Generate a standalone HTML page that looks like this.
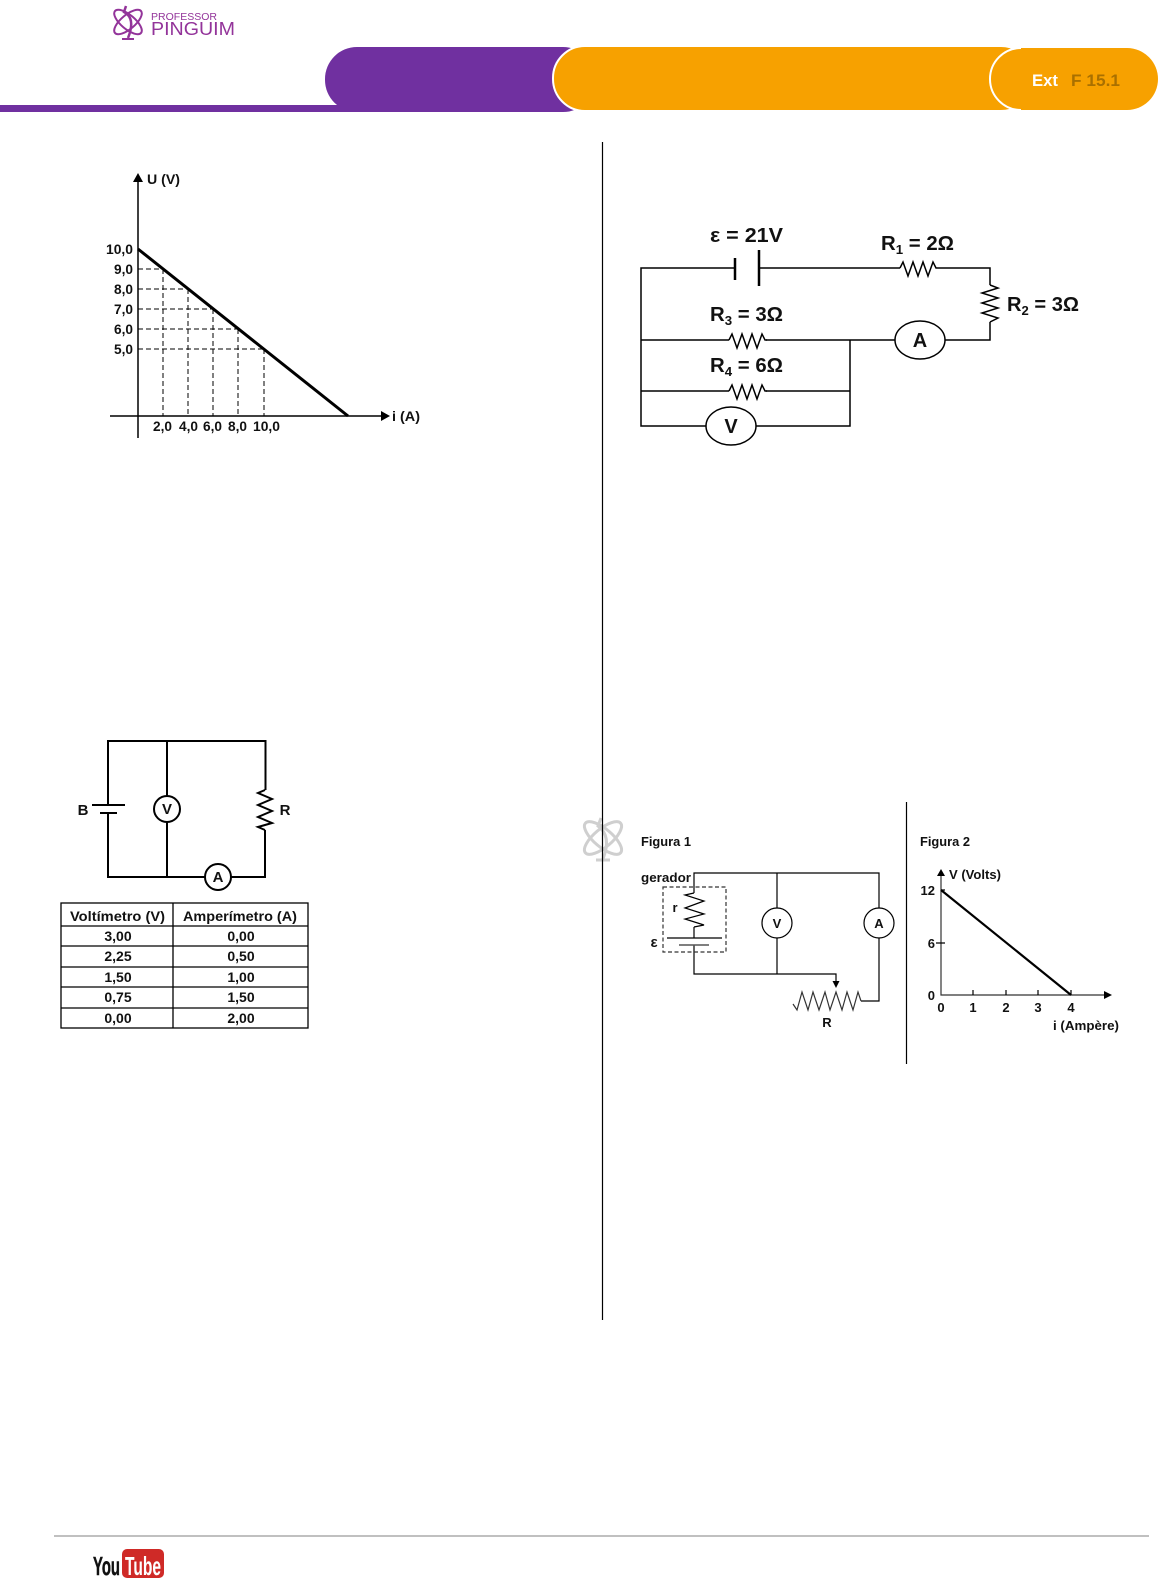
<!DOCTYPE html>
<html><head><meta charset="utf-8"><style>
html,body{margin:0;padding:0;background:#fff;width:1163px;height:1592px;overflow:hidden}
svg{display:block}
text{font-family:"Liberation Sans",sans-serif;fill:#111}
.b{font-weight:bold}
.w{fill:none;stroke:#000}
</style></head><body>
<svg width="1163" height="1592" viewBox="0 0 1163 1592" xmlns="http://www.w3.org/2000/svg">
<!-- header -->
<rect x="325" y="47" width="270" height="65" rx="32" fill="#7030a0"/>
<rect x="0" y="105" width="358" height="7" fill="#7030a0"/>
<rect x="553" y="46" width="480" height="65" rx="32" fill="#f7a100" stroke="#fff" stroke-width="2"/>
<rect x="990" y="48" width="168" height="62" rx="31" fill="#f7a100"/>
<path d="M1021 48 A31 31 0 0 0 1021 110" fill="none" stroke="#fff" stroke-width="2"/>
<text x="1032" y="86" font-size="17" class="b" style="fill:#fff" textLength="26" lengthAdjust="spacingAndGlyphs">Ext</text>
<text x="1071" y="86" font-size="17" class="b" style="fill:#a97000" textLength="49" lengthAdjust="spacingAndGlyphs">F 15.1</text>
<!-- logo -->
<g fill="none" stroke="#93349a" stroke-width="2">
<ellipse cx="128" cy="22" rx="17" ry="7" transform="rotate(40 128 22)"/>
<ellipse cx="128" cy="22" rx="17" ry="7" transform="rotate(-40 128 22)"/>
<path d="M126 6 L124 12 Q136 18 128 38" stroke-width="2.500"/>
<path d="M122 39 H134"/>
</g>
<text x="151" y="20" font-size="10" style="fill:#93349a" textLength="66" lengthAdjust="spacingAndGlyphs">PROFESSOR</text>
<text x="151" y="35" font-size="18" style="fill:#93349a" textLength="84" lengthAdjust="spacingAndGlyphs">PINGUIM</text>
<!-- watermark -->
<g fill="none" stroke="#cfcfcf" stroke-width="3">
<ellipse cx="603" cy="838" rx="23" ry="9" transform="rotate(40 603 838)"/>
<ellipse cx="603" cy="838" rx="23" ry="9" transform="rotate(-40 603 838)"/>
<path d="M601 818 L598 826 Q612 836 603 859"/>
<path d="M596 860 H610"/>
</g>
<!-- dividers -->
<line x1="602.500" y1="142" x2="602.500" y2="1320" stroke="#000" stroke-width="1.200"/>
<line x1="906.500" y1="802" x2="906.500" y2="1064" stroke="#000" stroke-width="1.200"/>
<!-- graph 1 -->
<g class="w">
<line x1="138" y1="178" x2="138" y2="438" stroke-width="1.500"/>
<line x1="110" y1="416" x2="384" y2="416" stroke-width="1.500"/>
<line x1="138" y1="249" x2="348" y2="416" stroke-width="3"/>
<g stroke-width="1" stroke-dasharray="5 3">
<path d="M138 269H163M138 289H188M138 309H213M138 329H238M138 349H264"/>
<path d="M163 269V416M188 289V416M213 309V416M238 329V416M264 349V416"/>
</g>
</g>
<path d="M138 173l-5 9h10zM390 416l-9-5v10z" fill="#000"/>
<g class="b" font-size="14">
<text x="147" y="184" textLength="33" lengthAdjust="spacingAndGlyphs">U (V)</text>
<text x="392" y="421" textLength="28" lengthAdjust="spacingAndGlyphs">i (A)</text>
<text x="106" y="254" textLength="27" lengthAdjust="spacingAndGlyphs">10,0</text>
<text x="114" y="274" textLength="19" lengthAdjust="spacingAndGlyphs">9,0</text>
<text x="114" y="294" textLength="19" lengthAdjust="spacingAndGlyphs">8,0</text>
<text x="114" y="314" textLength="19" lengthAdjust="spacingAndGlyphs">7,0</text>
<text x="114" y="334" textLength="19" lengthAdjust="spacingAndGlyphs">6,0</text>
<text x="114" y="354" textLength="19" lengthAdjust="spacingAndGlyphs">5,0</text>
<text x="153" y="431" textLength="19" lengthAdjust="spacingAndGlyphs">2,0</text>
<text x="179" y="431" textLength="19" lengthAdjust="spacingAndGlyphs">4,0</text>
<text x="203" y="431" textLength="19" lengthAdjust="spacingAndGlyphs">6,0</text>
<text x="228" y="431" textLength="19" lengthAdjust="spacingAndGlyphs">8,0</text>
<text x="253" y="431" textLength="27" lengthAdjust="spacingAndGlyphs">10,0</text>
</g>
<!-- circuit left -->
<g class="w" stroke-width="2">
<path d="M108 805V741H265.500V790M108 813V877H265V830"/>
<line x1="167" y1="741" x2="167" y2="877"/>
<line x1="108" y1="877" x2="265" y2="877"/>
<line x1="92" y1="805" x2="125" y2="805"/>
<line x1="100" y1="813" x2="117" y2="813"/>
<polyline points="265,790 258,793 272,799 258,805 272,811 258,817 272,823 258,827 265,830"/>
<circle cx="167" cy="809" r="13" fill="#fff"/>
<circle cx="218" cy="877" r="13" fill="#fff"/>
</g>
<g class="b" font-size="15" text-anchor="middle">
<text x="83" y="815">B</text><text x="285" y="815">R</text>
<text x="167" y="814">V</text><text x="218" y="882">A</text>
</g>
<!-- table -->
<g class="w" stroke-width="1.300">
<rect x="61" y="903" width="247" height="125"/>
<path d="M173 903V1028M61 926H308M61 946H308M61 967H308M61 987H308M61 1008H308"/>
</g>
<g class="b" font-size="14">
<text x="70" y="921" textLength="95" lengthAdjust="spacingAndGlyphs">Voltímetro (V)</text>
<text x="183" y="921" textLength="114" lengthAdjust="spacingAndGlyphs">Amperímetro (A)</text>
<g text-anchor="middle">
<text x="118" y="941">3,00</text><text x="241" y="941">0,00</text>
<text x="118" y="961">2,25</text><text x="241" y="961">0,50</text>
<text x="118" y="982">1,50</text><text x="241" y="982">1,00</text>
<text x="118" y="1002">0,75</text><text x="241" y="1002">1,50</text>
<text x="118" y="1023">0,00</text><text x="241" y="1023">2,00</text>
</g></g>
<!-- circuit right top -->
<g class="w" stroke-width="1.500">
<path d="M735 268H641V426H706M756 426H850V340M759 268H900M938 268H990V285M990 322V340H945M895 340H766M729 340H641M641 391H729M766 391H850"/>
<polyline points="900,268 903,262 908,276 913,262 918,276 923,262 928,276 933,262 936,268 938,268"/>
<polyline transform="translate(-171 72)" points="900,268 903,262 908,276 913,262 918,276 923,262 928,276 933,262 936,268 938,268"/>
<polyline transform="translate(-171 123)" points="900,268 903,262 908,276 913,262 918,276 923,262 928,276 933,262 936,268 938,268"/>
<polyline points="990,285 998,288 982,293 998,298 982,303 998,308 982,313 998,318 990,322"/>
<ellipse cx="920" cy="340" rx="25" ry="19" fill="#fff"/>
<ellipse cx="731" cy="426" rx="25" ry="19" fill="#fff"/>
<line x1="735" y1="258" x2="735" y2="280" stroke-width="2.500"/>
<line x1="759" y1="250" x2="759" y2="286" stroke-width="2.500"/>
</g>
<g font-size="20" class="b">
<text x="710" y="242" textLength="73" lengthAdjust="spacingAndGlyphs">ε = 21V</text>
<text x="881" y="250" textLength="73" lengthAdjust="spacingAndGlyphs">R<tspan font-size="13" dy="4">1</tspan><tspan dy="-4"> = 2Ω</tspan></text>
<text x="1007" y="311" textLength="72" lengthAdjust="spacingAndGlyphs">R<tspan font-size="13" dy="4">2</tspan><tspan dy="-4"> = 3Ω</tspan></text>
<text x="710" y="321" textLength="73" lengthAdjust="spacingAndGlyphs">R<tspan font-size="13" dy="4">3</tspan><tspan dy="-4"> = 3Ω</tspan></text>
<text x="710" y="372" textLength="73" lengthAdjust="spacingAndGlyphs">R<tspan font-size="13" dy="4">4</tspan><tspan dy="-4"> = 6Ω</tspan></text>
<text x="920" y="347" text-anchor="middle">A</text>
<text x="731" y="433" text-anchor="middle">V</text>
</g>
<!-- figura 1 -->
<g class="w" stroke-width="1.200">
<path d="M694 893V873H879V908M879 938V1001H861M777 873V908M777 938V974M694 927V938M694 945V974H836V984"/>
<polyline points="694,893 685,895 704,901 685,908 704,914 685,919 704,925 694,927"/>
<path d="M667 938H722"/><path d="M679 945H709" stroke="#555" stroke-width="1.500"/>
<rect x="663" y="887" width="63" height="65" stroke-dasharray="4 2.500" stroke="#333"/>
<polyline points="793,1004 797,1010 802,992 808,1010 813,992 819,1010 825,992 830,1010 836,992 842,1010 847,992 853,1010 858,992 861,1001" stroke="#333"/>
<circle cx="777" cy="923" r="15" fill="#fff"/>
<circle cx="879" cy="923" r="15" fill="#fff"/>
</g>
<path d="M836 988l-3.500-7h7z" fill="#000"/>
<g class="b" font-size="13">
<text x="641" y="846" textLength="50" lengthAdjust="spacingAndGlyphs">Figura 1</text>
<text x="641" y="882" textLength="50" lengthAdjust="spacingAndGlyphs">gerador</text>
<text x="675" y="912" text-anchor="middle">r</text>
<text x="654" y="947" text-anchor="middle" font-size="15">ε</text>
<text x="777" y="928" text-anchor="middle">V</text>
<text x="879" y="928" text-anchor="middle">A</text>
<text x="827" y="1027" text-anchor="middle">R</text>
<text x="920" y="846" textLength="50" lengthAdjust="spacingAndGlyphs">Figura 2</text>
<text x="949" y="879" textLength="52" lengthAdjust="spacingAndGlyphs">V (Volts)</text>
<text x="1053" y="1030" textLength="66" lengthAdjust="spacingAndGlyphs">i (Ampère)</text>
<text x="935" y="895" text-anchor="end">12</text>
<text x="935" y="948" text-anchor="end">6</text>
<text x="935" y="1000" text-anchor="end">0</text>
<g text-anchor="middle">
<text x="941" y="1012">0</text><text x="973" y="1012">1</text><text x="1006" y="1012">2</text><text x="1038" y="1012">3</text><text x="1071" y="1012">4</text>
</g></g>
<!-- figura 2 -->
<g class="w">
<path d="M941 873V995H1106" stroke-width="1.200" stroke="#333"/>
<line x1="941" y1="890" x2="1071" y2="995" stroke-width="2.200"/>
<path d="M936 943H945M941 890H945M973 990V995M1006 990V995M1038 990V995M1071 990V995" stroke-width="1.200"/>
</g>
<path d="M941 869l-4 7h8zM1112 995l-8-4v8z" fill="#000"/>
<!-- footer -->
<line x1="54" y1="1536" x2="1149" y2="1536" stroke="#808080" stroke-width="1"/>
<rect x="122" y="1549" width="42" height="29" rx="5" fill="#cf2a27"/>
<text x="93" y="1575" font-size="26" class="b" style="fill:#111;stroke:#111;stroke-width:.5" textLength="27" lengthAdjust="spacingAndGlyphs">You</text>
<text x="125" y="1575" font-size="26" class="b" style="fill:#fff" textLength="36" lengthAdjust="spacingAndGlyphs">Tube</text>
</svg>
</body></html>
